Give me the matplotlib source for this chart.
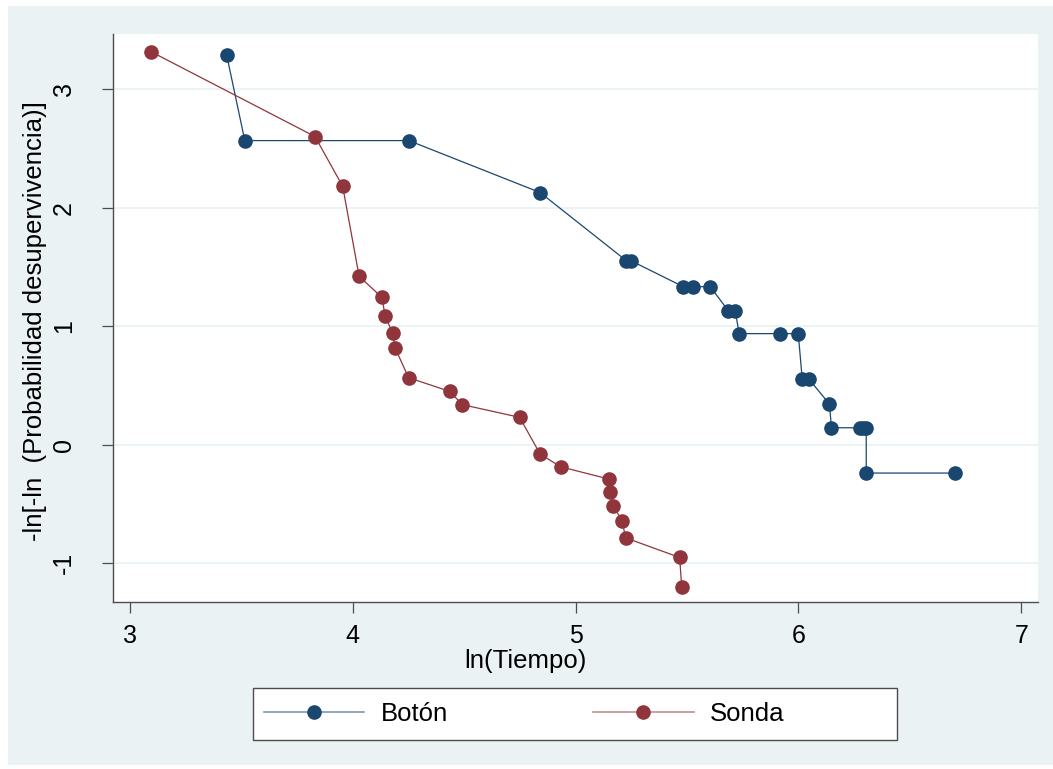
import matplotlib
matplotlib.use("Agg")
import matplotlib.pyplot as plt
from matplotlib.patches import Rectangle
from matplotlib.lines import Line2D

# ---- data ----
boton_x = [3.435, 3.516, 4.252, 4.841, 5.227, 5.247, 5.483, 5.528, 5.604,
           5.685, 5.716, 5.734, 5.918, 5.999, 6.017, 6.048, 6.139, 6.148,
           6.274, 6.290, 6.304, 6.304, 6.704]
boton_y = [3.283, 2.565, 2.565, 2.127, 1.553, 1.553, 1.333, 1.333, 1.333,
           1.131, 1.131, 0.937, 0.937, 0.937, 0.551, 0.551, 0.343, 0.143,
           0.143, 0.143, 0.143, -0.239, -0.239]

sonda_x = [3.094, 3.831, 3.955, 4.029, 4.131, 4.146, 4.179, 4.191, 4.251,
           4.435, 4.492, 4.749, 4.841, 4.933, 5.150, 5.156, 5.169, 5.209,
           5.224, 5.467, 5.476]
sonda_y = [3.316, 2.599, 2.180, 1.420, 1.243, 1.083, 0.942, 0.813, 0.565,
           0.450, 0.338, 0.231, -0.079, -0.186, -0.290, -0.402, -0.518,
           -0.641, -0.785, -0.951, -1.196]

x_ticks = [3, 4, 5, 6, 7]
y_ticks = [-1, 0, 1, 2, 3]
series_names = ["Botón", "Sonda"]
x_title = "ln(Tiempo)"
y_title = "-ln[-ln  (Probabilidad desupervivencia)]"

# ---- style ----
plt.rcParams['font.family'] = ['Liberation Sans', 'DejaVu Sans']
plt.rcParams['axes.unicode_minus'] = False
FS = 18.5
W, H = 1053, 769
fig = plt.figure(figsize=(W / 100, H / 100), dpi=100, facecolor='white')
BG = '#EAF2F3'
NAVY = '#1a476f'
MAROON = '#90353b'
EDGE = '#4d4d4d'

bg = Rectangle((8 / W, 4 / H), 1 - 8 / W, 1 - 10 / H,
               transform=fig.transFigure, facecolor=BG, edgecolor='none',
               zorder=-10)
fig.patches.append(bg)

l, r, t, b = 113.3, 1038.3, 34, 601.7
ax = fig.add_axes([l / W, 1 - b / H, (r - l) / W, (b - t) / H], zorder=1)
ax.set_facecolor('white')
ax.set_xlim(2.926, 7.076)
ax.set_ylim(-1.324, 3.464)

for v in y_ticks:
    ax.axhline(v, color=BG, lw=1.3, zorder=0.5)

ax.plot(boton_x, boton_y, color=NAVY, lw=0.9, marker='o', ms=9.5,
        mfc=NAVY, mec=NAVY, zorder=3)
ax.plot(sonda_x, sonda_y, color=MAROON, lw=0.9, marker='o', ms=9.5,
        mfc=MAROON, mec=MAROON, zorder=3)

for s in ['top', 'right']:
    ax.spines[s].set_visible(False)
for s in ['left', 'bottom']:
    ax.spines[s].set_color(EDGE)
    ax.spines[s].set_linewidth(1.0)

ax.set_xticks(x_ticks)
ax.set_yticks(y_ticks)
ax.tick_params(axis='both', direction='out', length=8, width=0.9,
               color=EDGE, labelsize=18, labelcolor='black')
ax.tick_params(axis='x', pad=8)
ax.tick_params(axis='y', pad=19)
for lab in ax.get_yticklabels():
    lab.set_rotation(90)
    lab.set_va('center')

fig.text(525 / W, 1 - 661 / H, x_title, ha='center', va='center', fontsize=FS)
fig.text(35 / W, 1 - 321 / H, y_title, ha='center', va='center',
         rotation=90, fontsize=FS)

# ---- legend ----
box = Rectangle((253 / W, 1 - 740 / H), (897 - 253) / W, (740 - 688) / H,
                transform=fig.transFigure, facecolor='white',
                edgecolor=EDGE, lw=1.0, zorder=2)
fig.patches.append(box)
handles = [
    Line2D([], [], color='#7d97b0', lw=1.2, marker='o', ms=9.5, mfc=NAVY, mec=NAVY),
    Line2D([], [], color='#c08f92', lw=1.2, marker='o', ms=9.5, mfc=MAROON, mec=MAROON),
]
leg = fig.legend(handles, series_names, loc='center left',
                 bbox_to_anchor=(264 / W, 1 - 714 / H), ncol=2, fontsize=FS,
                 frameon=False, handlelength=3.9,
                 handletextpad=0.65, columnspacing=5.65, borderpad=0,
                 borderaxespad=0, numpoints=1)
leg.set_zorder(3)

fig.savefig('out.png', dpi=100, facecolor='white')
